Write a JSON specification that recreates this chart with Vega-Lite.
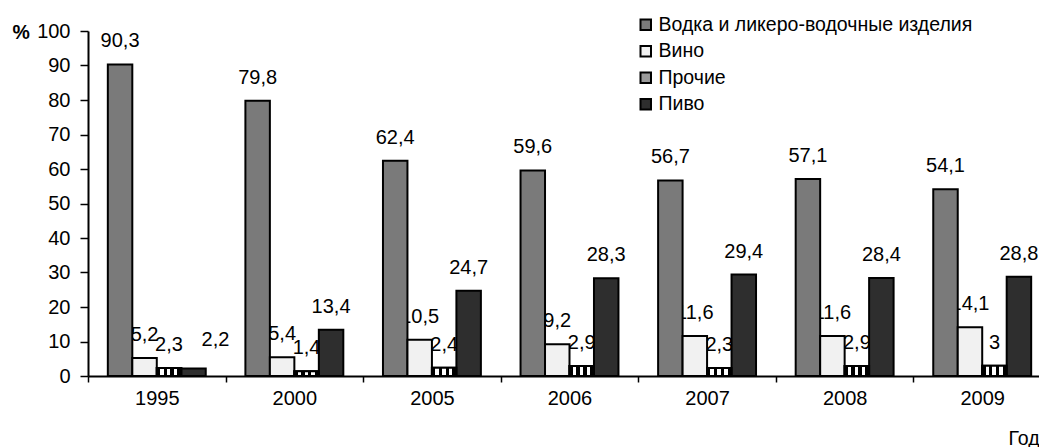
{
  "$schema": "https://vega.github.io/schema/vega-lite/v6.json",
  "width": 951,
  "height": 345,
  "autosize": "none",
  "padding": {"left": 88, "top": 31, "right": 0, "bottom": 71},
  "background": "white",
  "config": {
    "font": "Liberation Sans",
    "view": {"stroke": null},
    "locale": {"number": {"decimal": ",", "thousands": " ", "grouping": [3], "currency": ["", ""]}}
  },
  "data": {
    "values": [
      {"year": "1995", "cat": "Водка и ликеро-водочные изделия", "v": 90.3},
      {"year": "1995", "cat": "Вино", "v": 5.2},
      {"year": "1995", "cat": "Прочие", "v": 2.3},
      {"year": "1995", "cat": "Пиво", "v": 2.2},
      {"year": "2000", "cat": "Водка и ликеро-водочные изделия", "v": 79.8},
      {"year": "2000", "cat": "Вино", "v": 5.4},
      {"year": "2000", "cat": "Прочие", "v": 1.4},
      {"year": "2000", "cat": "Пиво", "v": 13.4},
      {"year": "2005", "cat": "Водка и ликеро-водочные изделия", "v": 62.4},
      {"year": "2005", "cat": "Вино", "v": 10.5},
      {"year": "2005", "cat": "Прочие", "v": 2.4},
      {"year": "2005", "cat": "Пиво", "v": 24.7},
      {"year": "2006", "cat": "Водка и ликеро-водочные изделия", "v": 59.6},
      {"year": "2006", "cat": "Вино", "v": 9.2},
      {"year": "2006", "cat": "Прочие", "v": 2.9},
      {"year": "2006", "cat": "Пиво", "v": 28.3},
      {"year": "2007", "cat": "Водка и ликеро-водочные изделия", "v": 56.7},
      {"year": "2007", "cat": "Вино", "v": 11.6},
      {"year": "2007", "cat": "Прочие", "v": 2.3},
      {"year": "2007", "cat": "Пиво", "v": 29.4},
      {"year": "2008", "cat": "Водка и ликеро-водочные изделия", "v": 57.1},
      {"year": "2008", "cat": "Вино", "v": 11.6},
      {"year": "2008", "cat": "Прочие", "v": 2.9},
      {"year": "2008", "cat": "Пиво", "v": 28.4},
      {"year": "2009", "cat": "Водка и ликеро-водочные изделия", "v": 54.1},
      {"year": "2009", "cat": "Вино", "v": 14.1},
      {"year": "2009", "cat": "Прочие", "v": 3},
      {"year": "2009", "cat": "Пиво", "v": 28.8}
    ]
  },
  "encoding": {
    "x": {
      "field": "year", "type": "nominal",
      "scale": {"paddingInner": 0, "paddingOuter": 0, "range": [0, 963]},
      "axis": {
        "title": "Год", "titleFontSize": 19.5, "titleFontWeight": "normal", "titleColor": "black",
        "titleAnchor": "start", "titleAlign": "left", "titleX": 920, "titleY": 62, "titleBaseline": "middle",
        "labelAngle": 0, "labelFontSize": 20, "labelColor": "black", "labelPadding": 6,
        "tickBand": "extent", "tickSize": 6, "tickColor": "black", "domainColor": "black", "domainWidth": 2, "tickWidth": 1.5
      }
    },
    "xOffset": {
      "field": "cat", "type": "nominal",
      "sort": ["Водка и ликеро-водочные изделия", "Вино", "Прочие", "Пиво"],
      "scale": {"paddingOuter": 0.81, "paddingInner": 0}
    },
    "y": {
      "field": "v", "type": "quantitative",
      "scale": {"domain": [0, 100], "nice": false},
      "axis": {
        "title": "%", "titleAngle": 0, "titleFontSize": 19.5, "titleFontWeight": "bold", "titleColor": "black",
        "titleAlign": "left", "titleBaseline": "middle", "titleX": -76, "titleY": 1,
        "values": [0, 10, 20, 30, 40, 50, 60, 70, 80, 90, 100],
        "labelFontSize": 20, "labelColor": "black", "labelPadding": 10,
        "grid": false, "tickSize": 8, "tickColor": "black", "domainColor": "black", "domainWidth": 2, "tickWidth": 1.5
      }
    }
  },
  "layer": [
    {
      "transform": [{"filter": "!(datum.year === '1995' && datum.cat === 'Пиво')"}],
      "mark": {"type": "text", "baseline": "middle", "dy": -23, "fontSize": 20, "color": "black"},
      "encoding": {
        "text": {"field": "v", "type": "quantitative", "format": ".1~f"}
      }
    },
    {
      "transform": [{"filter": "datum.year === '1995' && datum.cat === 'Пиво'"}],
      "mark": {"type": "text", "baseline": "middle", "dy": -28, "dx": 22, "fontSize": 20, "color": "black"},
      "encoding": {
        "text": {"field": "v", "type": "quantitative", "format": ".1~f"}
      }
    },
    {
      "mark": {"type": "bar", "stroke": "black", "strokeWidth": 2},
      "encoding": {
        "fill": {
          "field": "cat", "type": "nominal",
          "scale": {
            "domain": ["Водка и ликеро-водочные изделия", "Вино", "Прочие", "Пиво"],
            "range": ["#7a7a7a", "#f1f1f1", "#9a9a9a", "#2e2e2e"]
          },
          "legend": {
            "title": null, "orient": "none", "legendX": 548, "legendY": -16, "padding": 0,
            "symbolType": "square", "symbolSize": 110, "symbolStrokeColor": "black", "symbolStrokeWidth": 2,
            "labelFontSize": 19.5, "labelColor": "black", "labelOffset": 3, "rowPadding": 5.5, "labelLimit": 500
          }
        }
      }
    },
    {
      "transform": [{"filter": "datum.cat === 'Прочие'"}],
      "mark": {
        "type": "bar", "stroke": "black", "strokeWidth": 2,
        "fill": {
          "gradient": "linear", "x1": 0, "y1": 0, "x2": 1, "y2": 0,
          "stops": [
            {"offset": 0, "color": "black"}, {"offset": 0.14, "color": "black"},
            {"offset": 0.14, "color": "white"}, {"offset": 0.28, "color": "white"},
            {"offset": 0.28, "color": "black"}, {"offset": 0.42, "color": "black"},
            {"offset": 0.42, "color": "white"}, {"offset": 0.56, "color": "white"},
            {"offset": 0.56, "color": "black"}, {"offset": 0.7, "color": "black"},
            {"offset": 0.7, "color": "white"}, {"offset": 0.84, "color": "white"},
            {"offset": 0.84, "color": "black"}, {"offset": 1, "color": "black"}
          ]
        }
      },
      "encoding": {}
    }
  ]
}
